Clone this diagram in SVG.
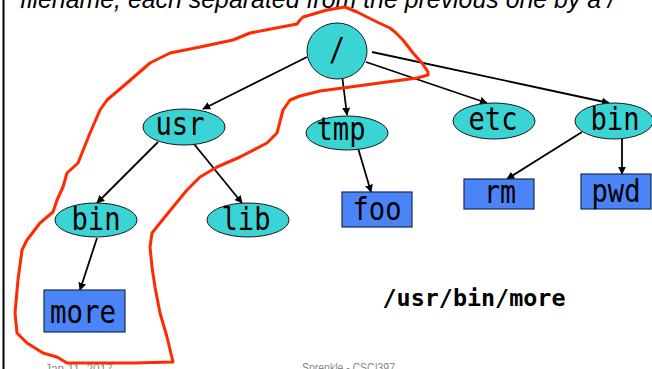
<svg xmlns="http://www.w3.org/2000/svg" width="652" height="369" viewBox="0 0 652 369">
  <defs>
    <marker id="arrow" viewBox="0 0 10 10" refX="9" refY="5" markerWidth="8" markerHeight="8" markerUnits="userSpaceOnUse" orient="auto">
      <path d="M0,0 L10,5 L0,10 z" fill="#000"/>
    </marker>
    <style>
      .dir { fill: #3bd4d4; stroke: #1a1a1a; stroke-width: 1; }
      .file { fill: #4a84f6; stroke: #1a2a50; stroke-width: 1.2; }
      .lbl { font-family: "DejaVu Sans Mono", "Liberation Mono", monospace; font-size: 32px; fill: #000; text-anchor: middle; }
      .edge { stroke: #000; stroke-width: 1.8; fill: none; marker-end: url(#arrow); }
      .note { font-family: "Liberation Sans", Arial, sans-serif; font-size: 12px; fill: #8a8a8a; }
    </style>
  </defs>
  <rect width="652" height="369" fill="#fff"/>
  <line x1="3.5" y1="0" x2="3.5" y2="369" stroke="#000" stroke-width="2"/>

  <!-- heading line, clipped by the top edge -->
  <text x="20" y="8" font-family="Liberation Sans, Arial, sans-serif" font-style="italic" font-size="25" fill="#000" textLength="595" lengthAdjust="spacingAndGlyphs">filename, each separated from the previous one by a /</text>

  <!-- connectors -->
  <g id="edges">
    <line class="edge" x1="307" y1="57" x2="203" y2="109"/>
    <line class="edge" x1="342" y1="75" x2="347" y2="115"/>
    <line class="edge" x1="366" y1="62" x2="487" y2="103"/>
    <line class="edge" x1="372" y1="52" x2="609" y2="103"/>
    <line class="edge" x1="158" y1="142" x2="97" y2="203"/>
    <line class="edge" x1="194" y1="144" x2="242" y2="203"/>
    <line class="edge" x1="358" y1="148" x2="371" y2="192"/>
    <line class="edge" x1="582" y1="132" x2="507" y2="179"/>
    <line class="edge" x1="622" y1="138" x2="622" y2="174"/>
    <line class="edge" x1="97" y1="238" x2="80" y2="290"/>
  </g>

  <!-- directories -->
  <g id="root">
    <ellipse class="dir" cx="337" cy="51" rx="30" ry="28"/>
    <text class="lbl" x="337" y="60" textLength="16" lengthAdjust="spacingAndGlyphs">/</text>
  </g>
  <g id="usr">
    <ellipse class="dir" cx="184" cy="127" rx="41" ry="18"/>
    <text class="lbl" x="180" y="135" textLength="49" lengthAdjust="spacingAndGlyphs">usr</text>
  </g>
  <g id="tmp">
    <ellipse class="dir" cx="347" cy="133" rx="41" ry="17"/>
    <text class="lbl" x="341" y="140" textLength="49" lengthAdjust="spacingAndGlyphs">tmp</text>
  </g>
  <g id="etc">
    <ellipse class="dir" cx="494" cy="121" rx="41" ry="18"/>
    <text class="lbl" x="493" y="130" textLength="49" lengthAdjust="spacingAndGlyphs">etc</text>
  </g>
  <g id="bin">
    <ellipse class="dir" cx="614" cy="121" rx="39" ry="18"/>
    <text class="lbl" x="615" y="130" textLength="49" lengthAdjust="spacingAndGlyphs">bin</text>
  </g>
  <g id="usr-bin">
    <ellipse class="dir" cx="96" cy="220" rx="41" ry="17"/>
    <text class="lbl" x="96" y="230" textLength="49" lengthAdjust="spacingAndGlyphs">bin</text>
  </g>
  <g id="usr-lib">
    <ellipse class="dir" cx="248" cy="220" rx="41" ry="17"/>
    <text class="lbl" x="246" y="230" textLength="49" lengthAdjust="spacingAndGlyphs">lib</text>
  </g>

  <!-- files -->
  <g id="foo">
    <rect class="file" x="342" y="192" width="70" height="35"/>
    <text class="lbl" x="377" y="220" textLength="49" lengthAdjust="spacingAndGlyphs">foo</text>
  </g>
  <g id="rm">
    <rect class="file" x="464" y="179" width="70" height="30"/>
    <text class="lbl" x="500" y="203" textLength="32" lengthAdjust="spacingAndGlyphs">rm</text>
  </g>
  <g id="pwd">
    <rect class="file" x="581" y="174" width="70" height="35"/>
    <text class="lbl" x="616" y="202" textLength="49" lengthAdjust="spacingAndGlyphs">pwd</text>
  </g>
  <g id="more">
    <rect class="file" x="44" y="290" width="81" height="42"/>
    <text class="lbl" x="83" y="323" textLength="66" lengthAdjust="spacingAndGlyphs">more</text>
  </g>

  <!-- path caption -->
  <text x="474" y="306" font-family="DejaVu Sans Mono, Liberation Mono, monospace" font-weight="bold" font-size="23" text-anchor="middle" fill="#000" textLength="183" lengthAdjust="spacingAndGlyphs">/usr/bin/more</text>

  <!-- hand-drawn highlight around the /usr/bin/more route -->
  <path d="M173,362 L133,363 L67,363 L57,357 L43,353 L27,343 L17,333 L15,313 L18,280 L22,250 L27,240 L40,223 L53,212 L57,200 L63,187 L67,173 L78,163 L82,153 L90,133 L100,110 L107,100 L127,83 L150,63 L170,53 L200,47 L233,40 L250,33 L297,24 L300,20 L303,17 L310,15 L327,10 L345,7 L357,12 L377,22 L390,28 L395,32 L403,40 L413,53 L422,63 L428,72 L428,75 L417,78 L387,82 L350,87 L320,91 L300,96 L290,100 L283,110 L277,133 L267,143 L240,157 L217,167 L200,177 L187,190 L173,207 L160,223 L152,233 L150,247 L152,267 L155,287 L160,313 L167,337 L173,362" fill="none" stroke="#ff2a00" stroke-width="3" stroke-linejoin="round" stroke-linecap="round"/>

  <!-- footer, clipped by the bottom edge -->
  <text class="note" x="45" y="373" textLength="68" lengthAdjust="spacingAndGlyphs">Jan 11, 2017</text>
  <text class="note" x="302" y="372" textLength="93" lengthAdjust="spacingAndGlyphs">Sprenkle - CSCI397</text>
</svg>
